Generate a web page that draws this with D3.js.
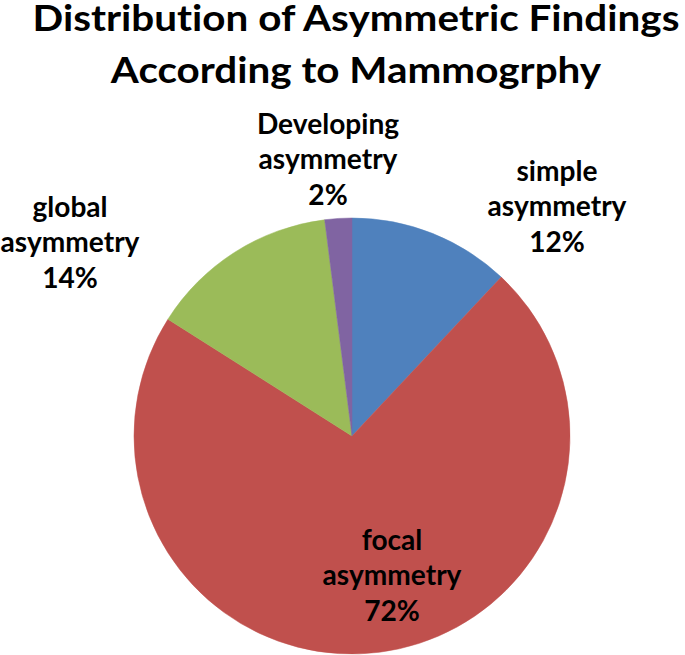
<!DOCTYPE html>
<html><head><meta charset="utf-8">
<script src="https://cdn.jsdelivr.net/npm/d3@7"></script>
<style>body{margin:0;background:#fff;overflow:hidden} text{font-variant-ligatures:none;font-feature-settings:"liga" 0}</style>
</head><body><svg id="c" width="685" height="655"></svg>
<script>
// ---- data ----
const categories = ["simple asymmetry", "focal asymmetry", "global asymmetry", "Developing asymmetry"];
const labelLines = [["simple", "asymmetry"], ["focal", "asymmetry"], ["global", "asymmetry"], ["Developing", "asymmetry"]];
const values = [12, 72, 14, 2];
const colors = ["#4F81BD", "#C0504D", "#9BBB59", "#8064A2"];
const titleLines = ["Distribution of Asymmetric Findings", "According to Mammogrphy"];

// ---- layout ----
const W = 685, H = 655;
const cx = 352, cy = 436, R = 218;
const FONT = "Lato, 'Open Sans', 'DejaVu Sans', sans-serif";
const labelFont = 28, titleFont = 37, lineGap = 35.5;
// label block anchor (centre x, first baseline) relative to pie centre
const labelLayout = [[205, -255], [40, 114], [-282, -219], [-24, -302]];

const svg = d3.select("#c");

function measure(txt, size) {
  const t = svg.append("text").attr("font-family", FONT).attr("font-weight", 700)
    .attr("font-size", size).text(txt);
  const w = t.node().getComputedTextLength();
  t.remove();
  return w;
}

// ---- title ----
const titleScale = 647 / measure(titleLines[0], titleFont);
const titleBaselines = [31, 83];
svg.append("g").selectAll("text").data(titleLines).join("text")
  .attr("transform", (d, i) => `translate(356,${titleBaselines[i]}) scale(${titleScale},1)`)
  .attr("text-anchor", "middle")
  .attr("font-family", FONT).attr("font-weight", 700).attr("font-size", titleFont)
  .attr("fill", "#000")
  .text(d => d);

// ---- pie ----
const pie = d3.pie().sort(null).value(d => d);
const arcs = pie(values);
const arc = d3.arc().innerRadius(0).outerRadius(R);
const g = svg.append("g").attr("transform", `translate(${cx},${cy})`);
g.selectAll("path").data(arcs).join("path")
  .attr("d", arc)
  .attr("fill", (d, i) => colors[i])
  .attr("stroke", (d, i) => colors[i])
  .attr("stroke-width", 0.5);

// ---- labels ----
const labScale = 139 / measure("asymmetry", labelFont);
const fmt = v => Math.round(v / d3.sum(values) * 100) + "%";
const lg = g.append("g");
arcs.forEach((a, i) => {
  const [lx, ly] = labelLayout[i];
  const lines = labelLines[i].concat([fmt(values[i])]);
  lg.append("g")
    .attr("transform", `translate(${lx},${ly}) scale(${labScale},1)`)
    .selectAll("text").data(lines).join("text")
    .attr("y", (d, j) => j * lineGap)
    .attr("text-anchor", "middle")
    .attr("font-family", FONT).attr("font-weight", 700).attr("font-size", labelFont)
    .attr("fill", "#000")
    .text(d => d);
});
</script>
</body></html>
